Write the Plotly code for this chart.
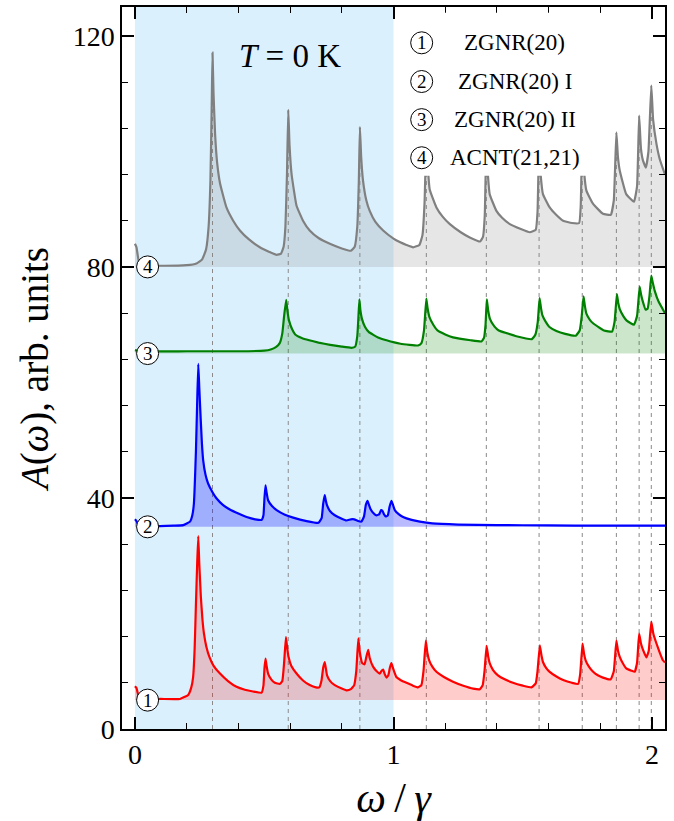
import plotly.graph_objects as go

# ---------------- data ----------------
red_x = [0.0, 0.006, 0.015, 0.03, 0.10, 0.174, 0.206, 0.218, 0.225, 0.231, 0.236, 0.241, 0.245, 0.249, 0.255, 0.261, 0.267, 0.276, 0.288, 0.305, 0.329, 0.36, 0.393, 0.425, 0.457, 0.490, 0.497, 0.501, 0.505, 0.509, 0.515, 0.527, 0.541, 0.560, 0.570, 0.577, 0.584, 0.589, 0.594, 0.605, 0.625, 0.650, 0.676, 0.700, 0.713, 0.722, 0.728, 0.734, 0.738, 0.743, 0.755, 0.773, 0.800, 0.818, 0.835, 0.848, 0.856, 0.864, 0.870, 0.879, 0.888, 0.895, 0.902, 0.908, 0.921, 0.935, 0.947, 0.954, 0.960, 0.966, 0.973, 0.980, 0.986, 0.992, 0.999, 1.011, 1.030, 1.050, 1.075, 1.095, 1.108, 1.116, 1.125, 1.131, 1.138, 1.150, 1.166, 1.195, 1.230, 1.270, 1.308, 1.334, 1.345, 1.352, 1.360, 1.366, 1.372, 1.385, 1.404, 1.430, 1.462, 1.500, 1.533, 1.550, 1.557, 1.566, 1.572, 1.578, 1.590, 1.604, 1.630, 1.656, 1.690, 1.714, 1.722, 1.731, 1.737, 1.743, 1.757, 1.772, 1.790, 1.810, 1.840, 1.852, 1.862, 1.868, 1.875, 1.888, 1.900, 1.920, 1.933, 1.942, 1.950, 1.957, 1.965, 1.978, 1.987, 1.997, 2.005, 2.017, 2.030, 2.042, 2.05]
red_y = [7.4, 7.1, 5.6, 5.2, 5.2, 5.2, 5.9, 7.2, 9.0, 14.0, 21.7, 29.0, 33.4, 28.5, 22.9, 19.0, 16.5, 14.3, 12.5, 10.9, 9.6, 8.3, 7.3, 6.8, 6.5, 6.3, 7.5, 10.5, 12.2, 11.0, 9.6, 8.6, 8.0, 7.8, 8.3, 11.5, 15.9, 14.0, 12.5, 10.9, 9.6, 8.4, 7.6, 7.2, 7.2, 8.5, 10.6, 11.6, 10.6, 9.3, 8.3, 7.6, 7.0, 6.7, 6.9, 7.6, 10.0, 15.7, 13.2, 11.4, 11.2, 12.5, 13.7, 12.3, 10.8, 10.0, 9.6, 10.1, 10.3, 9.5, 8.9, 9.3, 10.6, 11.4, 10.4, 9.0, 8.4, 8.0, 7.5, 7.2, 7.6, 10.0, 15.3, 13.2, 11.9, 10.8, 9.9, 9.0, 8.2, 7.5, 7.0, 6.9, 7.6, 10.0, 14.4, 12.6, 11.4, 10.2, 9.3, 8.6, 8.0, 7.5, 7.2, 7.9, 10.0, 14.5, 12.8, 11.6, 10.6, 9.9, 9.1, 8.5, 8.0, 7.8, 9.5, 14.8, 13.0, 11.9, 10.7, 9.9, 9.3, 8.9, 8.6, 10.0, 15.3, 13.6, 12.5, 11.3, 10.5, 10.1, 9.9, 11.5, 16.5, 14.8, 13.7, 12.4, 13.5, 18.6, 16.5, 14.8, 13.2, 11.9, 11.5]

blue_x = [0.0, 0.006, 0.015, 0.05, 0.15, 0.187, 0.213, 0.222, 0.228, 0.236, 0.241, 0.245, 0.249, 0.254, 0.259, 0.264, 0.273, 0.283, 0.30, 0.316, 0.34, 0.367, 0.40, 0.432, 0.465, 0.490, 0.497, 0.501, 0.505, 0.509, 0.515, 0.530, 0.548, 0.58, 0.612, 0.664, 0.710, 0.722, 0.728, 0.734, 0.738, 0.743, 0.755, 0.773, 0.80, 0.818, 0.835, 0.848, 0.863, 0.876, 0.886, 0.893, 0.900, 0.905, 0.911, 0.922, 0.934, 0.945, 0.952, 0.957, 0.963, 0.970, 0.978, 0.985, 0.992, 0.998, 1.005, 1.02, 1.037, 1.07, 1.102, 1.15, 1.25, 1.40, 1.60, 1.80, 2.05]
blue_y = [36.3, 36.0, 35.3, 35.1, 35.2, 35.3, 35.9, 37.0, 39.0, 48.2, 57.0, 63.2, 59.0, 54.0, 49.5, 46.5, 44.0, 42.5, 41.0, 39.9, 38.8, 38.0, 37.3, 36.7, 36.3, 36.2, 37.0, 40.0, 42.2, 41.0, 39.6, 38.6, 37.9, 37.1, 36.6, 36.0, 35.7, 36.5, 39.0, 40.5, 39.6, 38.7, 37.7, 37.0, 36.4, 36.1, 36.3, 36.3, 36.0, 35.9, 36.8, 38.8, 39.5, 38.8, 38.1, 37.4, 37.0, 37.2, 37.9, 37.8, 37.2, 36.8, 37.0, 38.5, 39.5, 38.8, 37.9, 37.2, 36.7, 36.2, 35.9, 35.6, 35.4, 35.3, 35.25, 35.2, 35.2]

green_x = [0.0, 0.02, 0.2, 0.4, 0.50, 0.525, 0.545, 0.560, 0.570, 0.577, 0.585, 0.590, 0.596, 0.608, 0.620, 0.645, 0.674, 0.71, 0.755, 0.80, 0.837, 0.852, 0.860, 0.864, 0.868, 0.872, 0.878, 0.890, 0.905, 0.94, 0.973, 1.027, 1.095, 1.108, 1.118, 1.127, 1.132, 1.139, 1.155, 1.170, 1.200, 1.230, 1.298, 1.340, 1.350, 1.356, 1.361, 1.366, 1.373, 1.390, 1.407, 1.440, 1.475, 1.535, 1.548, 1.558, 1.565, 1.570, 1.576, 1.590, 1.603, 1.630, 1.664, 1.705, 1.720, 1.728, 1.735, 1.740, 1.746, 1.760, 1.773, 1.814, 1.845, 1.855, 1.864, 1.869, 1.875, 1.890, 1.902, 1.930, 1.942, 1.952, 1.957, 1.963, 1.975, 1.983, 1.990, 1.997, 2.003, 2.010, 2.025, 2.05]
green_y = [65.6, 65.4, 65.4, 65.4, 65.5, 65.7, 66.1, 66.8, 68.5, 71.5, 74.3, 72.3, 70.7, 69.2, 68.3, 67.7, 67.3, 66.9, 66.5, 66.2, 66.0, 66.2, 68.0, 71.0, 74.4, 72.5, 71.0, 69.6, 68.7, 67.8, 67.3, 66.7, 66.4, 66.8, 69.0, 74.5, 72.8, 71.3, 69.9, 69.0, 68.3, 67.8, 67.3, 67.1, 67.7, 70.0, 74.4, 72.5, 71.0, 69.7, 69.0, 68.5, 68.0, 67.5, 68.2, 70.5, 74.6, 73.0, 71.6, 70.4, 69.6, 68.9, 68.4, 68.1, 69.0, 71.5, 74.9, 73.3, 71.9, 70.8, 70.2, 69.0, 68.8, 70.5, 75.3, 73.8, 72.7, 71.4, 70.7, 70.0, 71.5, 76.6, 75.3, 74.2, 72.6, 72.8, 75.0, 78.5, 77.2, 75.9, 74.0, 72.0]

gray_x = [0.0, 0.006, 0.015, 0.03, 0.10, 0.20, 0.238, 0.260, 0.275, 0.285, 0.292, 0.297, 0.300, 0.304, 0.310, 0.318, 0.329, 0.354, 0.38, 0.406, 0.44, 0.483, 0.52, 0.548, 0.565, 0.575, 0.582, 0.588, 0.593, 0.598, 0.606, 0.625, 0.65, 0.676, 0.71, 0.754, 0.80, 0.835, 0.850, 0.860, 0.866, 0.870, 0.875, 0.882, 0.895, 0.908, 0.93, 0.96, 1.0, 1.024, 1.05, 1.076, 1.10, 1.112, 1.120, 1.127, 1.133, 1.140, 1.166, 1.19, 1.218, 1.26, 1.295, 1.335, 1.346, 1.353, 1.359, 1.365, 1.372, 1.398, 1.42, 1.450, 1.49, 1.527, 1.550, 1.557, 1.563, 1.569, 1.578, 1.604, 1.63, 1.656, 1.69, 1.718, 1.724, 1.730, 1.737, 1.746, 1.772, 1.810, 1.840, 1.852, 1.862, 1.868, 1.875, 1.900, 1.930, 1.942, 1.950, 1.957, 1.965, 1.976, 1.986, 1.997, 2.004, 2.017, 2.03, 2.05]
gray_y = [84.0, 83.4, 81.0, 80.3, 80.2, 80.3, 80.6, 81.3, 83.0, 87.0, 95.0, 108.0, 117.1, 110.0, 103.0, 98.0, 94.5, 90.3, 88.0, 86.3, 84.8, 83.4, 82.6, 82.1, 82.3, 83.5, 87.0, 96.0, 107.2, 101.0, 96.0, 90.6, 88.0, 86.3, 85.0, 84.0, 83.2, 82.8, 83.5, 87.0, 95.0, 104.2, 99.0, 95.0, 91.5, 89.7, 87.8, 86.3, 84.9, 84.3, 83.8, 83.4, 83.8, 85.5, 91.0, 101.5, 97.0, 93.4, 90.3, 88.7, 87.4, 86.0, 85.1, 84.4, 85.2, 89.0, 101.0, 96.0, 92.6, 89.7, 88.5, 87.4, 86.6, 86.0, 86.4, 89.5, 101.0, 96.0, 92.6, 90.3, 89.0, 88.0, 87.6, 87.6, 90.5, 102.0, 96.5, 93.2, 90.9, 89.2, 89.0, 91.5, 103.3, 99.0, 96.7, 92.6, 91.3, 94.0, 106.2, 100.5, 98.4, 97.2, 100.0, 111.4, 105.5, 101.3, 98.6, 96.0]

baselines = [5, 35, 65, 80]
labels = ["1", "2", "3", "4"]
names = ["ZGNR(20)", "ZGNR(20) I", "ZGNR(20) II", "ACNT(21,21)"]
vhs_x = [0.300, 0.593, 0.870, 1.127, 1.359, 1.563, 1.730, 1.862, 1.950, 1.997]
vhs_top = [117.1, 107.2, 104.2, 101.5, 101.0, 101.0, 102.0, 103.3, 106.2, 111.4]

x_range = [-0.05, 2.05]
y_range = [0, 125]

series = [
    (red_x, red_y, "#ff0000", "rgba(255,0,0,0.2)"),
    (blue_x, blue_y, "#0000ff", "rgba(0,0,255,0.27)"),
    (green_x, green_y, "#008000", "rgba(0,128,0,0.2)"),
    (gray_x, gray_y, "#808080", "rgba(128,128,128,0.2)"),
]

SERIF = "Liberation Serif, DejaVu Serif, serif"

fig = go.Figure()
for (xs, ys, col, fcol), base in zip(series, baselines):
    fig.add_trace(go.Scatter(x=[0, x_range[1]], y=[base, base], mode="lines",
                             line=dict(width=0, color=fcol), showlegend=False, hoverinfo="skip"))
    fig.add_trace(go.Scatter(x=xs, y=ys, mode="lines", fill="tonexty", fillcolor=fcol,
                             line=dict(color=col, width=2.2, shape="spline", smoothing=0.35),
                             showlegend=False))

shapes = []
shapes.append(dict(type="rect", xref="x", yref="paper", x0=0, x1=1, y0=0, y1=1,
                   fillcolor="rgba(135,206,250,0.3)", line=dict(width=0), layer="below"))
for xv, top in zip(vhs_x, vhs_top):
    shapes.append(dict(type="line", xref="x", yref="y", x0=xv, x1=xv, y0=y_range[0], y1=top,
                       line=dict(color="#8a8a8a", width=1, dash="4px,4px"), layer="below"))
# white legend box
shapes.append(dict(type="rect", xref="x", yref="y", x0=1.045, x1=1.80, y0=95.8, y1=124.0,
                   fillcolor="white", line=dict(width=0), layer="above"))

def circle(xc, yc):
    return dict(type="circle", xref="x", yref="y", xsizemode="pixel", ysizemode="pixel",
                xanchor=xc, yanchor=yc, x0=-11, x1=11, y0=-11, y1=11,
                fillcolor="white", line=dict(color="black", width=1), layer="above")

annotations = []
for base, lab in zip(baselines, labels):
    shapes.append(circle(0.049, base))
    annotations.append(dict(x=0.049, y=base, xref="x", yref="y", text=lab, showarrow=False,
                            font=dict(family=SERIF, size=19, color="black"),
                            xanchor="center", yanchor="middle"))
leg_y = [118.8, 112.1, 105.5, 98.9]
for yy, lab, n in zip(leg_y, labels, names):
    shapes.append(circle(1.109, yy))
    annotations.append(dict(x=1.109, y=yy, xref="x", yref="y", text=lab, showarrow=False,
                            font=dict(family=SERIF, size=19, color="black"),
                            xanchor="center", yanchor="middle"))
    annotations.append(dict(x=1.469, y=yy, xref="x", yref="y", text=n, showarrow=False,
                            font=dict(family=SERIF, size=23, color="black"),
                            xanchor="center", yanchor="middle"))
annotations.append(dict(x=0.60, y=116.5, xref="x", yref="y", text="<i>T</i> = 0 K",
                        showarrow=False, font=dict(family=SERIF, size=33, color="black"),
                        xanchor="center", yanchor="middle"))

axis_common = dict(showline=True, linecolor="black", linewidth=1.5, mirror="allticks",
                   ticks="inside", ticklen=12, tickwidth=1.5, tickcolor="black",
                   showgrid=False, zeroline=False, automargin=False,
                   tickfont=dict(family=SERIF, size=28, color="black"))

fig.update_layout(
    width=674, height=821, autosize=False,
    margin=dict(l=122, r=9, t=7, b=92),
    plot_bgcolor="white", paper_bgcolor="white",
    shapes=shapes, annotations=annotations, showlegend=False,
    xaxis=dict(range=x_range, tickvals=[0, 1, 2],
               minor=dict(ticks="inside", dtick=0.2, tick0=0, ticklen=6.5, tickwidth=1.2, tickcolor="black"),
               title=dict(text="<i>ω</i>\u2009/\u2009<i>γ</i>", font=dict(family=SERIF, size=42, color="black"), standoff=16),
               **axis_common),
    yaxis=dict(range=y_range, tickvals=[0, 40, 80, 120],
               minor=dict(ticks="inside", dtick=8, tick0=0, ticklen=6.5, tickwidth=1.2, tickcolor="black"),
               title=dict(text="<i>A</i>(<i>ω</i>), arb. units", font=dict(family=SERIF, size=39, color="black"), standoff=12),
               **axis_common),
)

fig.write_html("out.html", config={"displayModeBar": False},
               post_script="document.body.style.margin='0';document.body.style.overflow='hidden';")
